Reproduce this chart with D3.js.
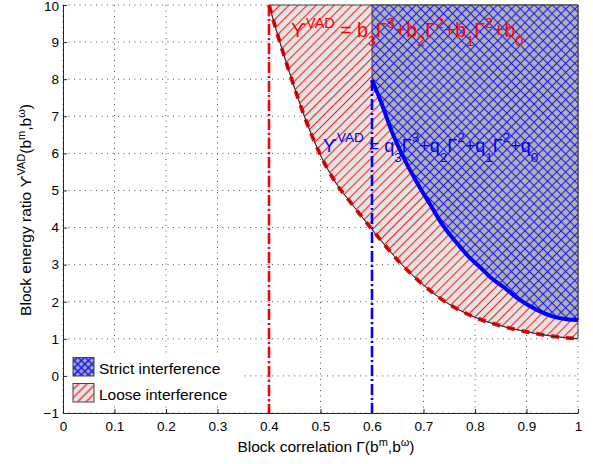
<!DOCTYPE html>
<html>
<head>
<meta charset="utf-8">
<script src="https://cdn.jsdelivr.net/npm/d3@7"></script>
<style>
  html, body { margin: 0; padding: 0; background: #fff; }
  svg { display: block; }
  text { font-family: "Liberation Sans", Arial, Helvetica, sans-serif; fill: #000; }
</style>
</head>
<body>
<svg id="chart" width="593" height="464"></svg>
<script>
// ---------- data ----------
const xTicks = [0, 0.1, 0.2, 0.3, 0.4, 0.5, 0.6, 0.7, 0.8, 0.9, 1];
const xTickLabels = ["0", "0.1", "0.2", "0.3", "0.4", "0.5", "0.6", "0.7", "0.8", "0.9", "1"];
const yTicks = [-1, 0, 1, 2, 3, 4, 5, 6, 7, 8, 9, 10];
const yTickLabels = ["\u22121", "0", "1", "2", "3", "4", "5", "6", "7", "8", "9", "10"];

// loose interference boundary (red dashed curve)
const looseGamma = [0.4, 0.421, 0.444, 0.47, 0.5, 0.53, 0.56, 0.6, 0.658, 0.7, 0.742, 0.8, 0.85, 0.9, 0.95, 1.0];
const looseUpsilon = [10, 9.0, 8.0, 6.95, 5.95, 5.2, 4.65, 3.95, 3.0, 2.45, 2.0, 1.58, 1.35, 1.19, 1.07, 1.0];

// strict interference boundary (blue solid curve)
const strictGamma = [0.6, 0.616, 0.641, 0.667, 0.69, 0.713, 0.738, 0.771, 0.79, 0.81, 0.829, 0.855, 0.887, 0.92, 0.952, 0.978, 1.0];
const strictUpsilon = [7.98, 7.44, 6.5, 5.73, 5.15, 4.62, 4.05, 3.48, 3.18, 2.93, 2.67, 2.4, 2.05, 1.78, 1.6, 1.53, 1.51];

// vertical threshold lines
const looseThreshold = 0.4;
const strictThreshold = 0.6;
const yTop = 10;
const xRight = 1;

const legendLabels = ["Strict interference", "Loose interference"];

const redFormula = [["\u03D2", "n"], ["VAD", "sup"], [" = b", "n"], ["3", "sub"], ["\u0393", "n"], ["3", "sup"],
  ["+b", "n"], ["2", "sub"], ["\u0393", "n"], ["2", "sup"], ["+b", "n"], ["1", "sub"], ["\u0393", "n"], ["2", "sup"],
  ["+b", "n"], ["0", "sub"]];
const blueFormula = [["\u03D2", "n"], ["VAD", "sup"], [" = q", "n"], ["3", "sub"], ["\u0393", "n"], ["3", "sup"],
  ["+q", "n"], ["2", "sub"], ["\u0393", "n"], ["2", "sup"], ["+q", "n"], ["1", "sub"], ["\u0393", "n"], ["2", "sup"],
  ["+q", "n"], ["0", "sub"]];
const xTitle = [["Block correlation \u0393(b", "n"], ["m", "sup"], [",b", "n"], ["\u03C9", "sup"], [")", "n"]];
const yTitle = [["Block energy ratio \u03D2", "n"], ["VAD", "sup"], ["(b", "n"], ["m", "sup"], [",b", "n"], ["\u03C9", "sup"], [")", "n"]];

// ---------- layout ----------
const svg = d3.select("#chart");
const x = d3.scaleLinear().domain([0, 1]).range([63, 578]);
const y = d3.scaleLinear().domain([-1, 10]).range([413, 5]);

const defs = svg.append("defs");
function hatch(id, fill, color, size, width, cross) {
  const p = defs.append("pattern").attr("id", id)
    .attr("patternUnits", "userSpaceOnUse")
    .attr("width", size).attr("height", size)
    .attr("patternTransform", "rotate(45)");
  p.append("rect").attr("width", size).attr("height", size).attr("fill", fill);
  p.append("line").attr("x1", size / 2).attr("x2", size / 2).attr("y1", -1).attr("y2", size + 1)
    .attr("stroke", color).attr("stroke-width", width);
  if (cross) {
    p.append("line").attr("y1", size / 2).attr("y2", size / 2).attr("x1", -1).attr("x2", size + 1)
      .attr("stroke", color).attr("stroke-width", width);
  }
}
hatch("looseHatch", "#e4e4e4", "#ff2020", 6.4, 1.1, false);
hatch("strictHatch", "#b2b2b2", "#1a1aff", 6.4, 1.1, true);
hatch("looseHatchL", "#e4e4e4", "#ff2020", 6.0, 1.3, false);
hatch("strictHatchL", "#b2b2b2", "#1a1aff", 5.0, 1.6, true);

// grid
const grid = svg.append("g").attr("stroke", "#555").attr("stroke-width", 1)
  .attr("stroke-dasharray", "1,4.5");
grid.selectAll("line.v").data(xTicks).join("line").attr("class", "v")
  .attr("x1", d => x(d)).attr("x2", d => x(d)).attr("y1", y(-1)).attr("y2", y(10));
grid.selectAll("line.h").data(yTicks).join("line").attr("class", "h")
  .attr("y1", d => y(d)).attr("y2", d => y(d)).attr("x1", x(0)).attr("x2", x(1));

// regions
const loosePts = looseGamma.map((g, i) => [g, looseUpsilon[i]]);
const strictPts = strictGamma.map((g, i) => [g, strictUpsilon[i]]);
const curve = d3.line().x(d => x(d[0])).y(d => y(d[1])).curve(d3.curveMonotoneX);

function regionPath(pts) {
  const c = curve(pts);
  return c + `L${x(xRight)},${y(yTop)}L${x(pts[0][0])},${y(yTop)}Z`;
}
svg.append("path").attr("d", regionPath(loosePts))
  .attr("fill", "url(#looseHatch)").attr("stroke", "#222").attr("stroke-width", 0.8);
svg.append("path").attr("d", regionPath(strictPts))
  .attr("fill", "url(#strictHatch)").attr("stroke", "#222").attr("stroke-width", 0.8);

// vertical threshold lines
svg.append("line").attr("x1", x(looseThreshold)).attr("x2", x(looseThreshold))
  .attr("y1", y(yTop)).attr("y2", y(-1))
  .attr("stroke", "#ff0000").attr("stroke-width", 2.6).attr("stroke-dasharray", "11,3,2,3");
svg.append("line").attr("x1", x(strictThreshold)).attr("x2", x(strictThreshold))
  .attr("y1", y(strictUpsilon[0])).attr("y2", y(-1))
  .attr("stroke", "#0000ff").attr("stroke-width", 2.6).attr("stroke-dasharray", "11,3,2,3");

// curves
svg.append("path").attr("d", curve(loosePts)).attr("fill", "none")
  .attr("stroke", "#ff0000").attr("stroke-width", 3.8).attr("stroke-dasharray", "8,7");
svg.append("path").attr("d", curve(loosePts)).attr("fill", "none")
  .attr("stroke", "#222").attr("stroke-width", 0.8);
svg.append("path").attr("d", curve(strictPts)).attr("fill", "none")
  .attr("stroke", "#0000ff").attr("stroke-width", 4);

// rich text helper
function rich(sel, parts, size, subSize, supShift, subShift) {
  let cur = 0;
  parts.forEach(([s, k]) => {
    const target = k === "sup" ? -supShift : k === "sub" ? subShift : 0;
    sel.append("tspan").attr("dy", target - cur)
      .attr("font-size", k === "n" ? size : subSize)
      .style("white-space", "pre").text(s);
    cur = target;
  });
}

const redT = svg.append("text").attr("x", 291).attr("y", 36.5);
rich(redT, redFormula, 19.5, 14.5, 8.5, 9);
redT.selectAll("tspan").style("fill", "#ff0000");

const blueT = svg.append("text").attr("x", 323).attr("y", 151.5);
rich(blueT, blueFormula, 18, 13.5, 9.5, 10);
blueT.selectAll("tspan").style("fill", "#0000ff");

// axes
const xAxis = d3.axisBottom(x).tickValues(xTicks).tickFormat((d, i) => xTickLabels[i])
  .tickSizeInner(-4).tickSizeOuter(0).tickPadding(8);
const yAxis = d3.axisLeft(y).tickValues(yTicks).tickFormat((d, i) => yTickLabels[i])
  .tickSizeInner(-4).tickSizeOuter(0).tickPadding(4);
const gx = svg.append("g").attr("transform", `translate(0,${y(-1)})`).call(xAxis);
const gy = svg.append("g").attr("transform", `translate(${x(0)},0)`).call(yAxis);
[gx, gy].forEach(g => {
  g.select(".domain").attr("stroke", "#262626").attr("stroke-width", 1);
  g.selectAll(".tick line").attr("stroke", "#262626");
  g.selectAll(".tick text").attr("font-size", 13.5)
    .attr("font-family", "Liberation Sans, Arial, sans-serif").style("fill", "#000");
});
// keep the top label fully inside the picture
gy.selectAll(".tick text").filter(d => d === 10).attr("dy", "0.42em");

// axis titles
const xt = svg.append("text").attr("x", 326).attr("y", 452).attr("text-anchor", "middle");
rich(xt, xTitle, 15.5, 11, 6, 0);
const yt = svg.append("text").attr("transform", "translate(31,210) rotate(-90)").attr("text-anchor", "middle");
rich(yt, yTitle, 15.5, 11, 6, 0);

// legend
const lg = svg.append("g");
lg.append("rect").attr("x", 69).attr("y", 354).attr("width", 172).attr("height", 51).attr("fill", "#fff");
const fills = ["url(#strictHatchL)", "url(#looseHatchL)"];
const iconY = [357.5, 383.5];
legendLabels.forEach((lab, i) => {
  lg.append("rect").attr("x", 73).attr("y", iconY[i]).attr("width", 21).attr("height", 18.5)
    .attr("fill", fills[i]).attr("stroke", "#444").attr("stroke-width", 1);
  lg.append("text").attr("x", 99).attr("y", iconY[i] + 16.5).attr("font-size", 15.5).text(lab);
});
</script>
</body>
</html>
